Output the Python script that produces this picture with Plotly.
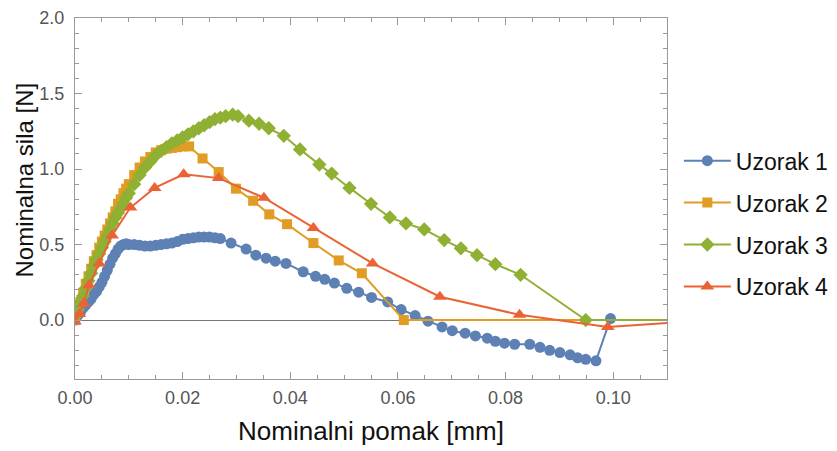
import plotly.graph_objects as go

# ---------------- data ----------------
s1_x = [0.000, 0.0005, 0.001, 0.0015, 0.002, 0.0025, 0.003, 0.0035, 0.004, 0.0045,
        0.005, 0.0055, 0.006, 0.0065, 0.007, 0.0075, 0.008, 0.0085, 0.009, 0.0095,
        0.010, 0.011, 0.012, 0.013, 0.014, 0.015, 0.016, 0.017, 0.018, 0.019,
        0.020, 0.021, 0.022, 0.023, 0.024, 0.025, 0.026, 0.027, 0.029, 0.0318,
        0.0336, 0.0355, 0.0372, 0.0392, 0.0424, 0.0447, 0.0464, 0.0482, 0.0505, 0.0527,
        0.0551, 0.0581, 0.0606, 0.0632, 0.0656, 0.0682, 0.0701, 0.0725, 0.0744, 0.0766,
        0.0781, 0.0798, 0.0817, 0.0845, 0.0864, 0.0882, 0.0901, 0.0920, 0.0934, 0.0949,
        0.0968, 0.0995]
s1_y = [0.00, 0.03, 0.05, 0.08, 0.10, 0.12, 0.14, 0.17, 0.19, 0.22,
        0.25, 0.29, 0.33, 0.37, 0.41, 0.44, 0.47, 0.49, 0.50, 0.505,
        0.50, 0.50, 0.495, 0.49, 0.49, 0.495, 0.50, 0.505, 0.51, 0.52,
        0.535, 0.54, 0.545, 0.55, 0.55, 0.55, 0.545, 0.54, 0.51, 0.47,
        0.43, 0.41, 0.39, 0.375, 0.32, 0.29, 0.27, 0.245, 0.21, 0.185,
        0.15, 0.12, 0.07, 0.03, -0.007, -0.045, -0.07, -0.087, -0.105, -0.12,
        -0.14, -0.153, -0.16, -0.16, -0.18, -0.20, -0.215, -0.23, -0.25, -0.26,
        -0.27, 0.01]

s2_x = [0.000, 0.0005, 0.001, 0.0015, 0.002, 0.0025, 0.003, 0.0035, 0.004, 0.0045,
        0.005, 0.0055, 0.006, 0.0065, 0.007, 0.0075, 0.008, 0.0085, 0.009, 0.0095,
        0.010, 0.011, 0.012, 0.013, 0.014, 0.015, 0.016, 0.017, 0.018, 0.019,
        0.020, 0.0212, 0.0237, 0.0267, 0.0299, 0.0331, 0.0361, 0.0394, 0.0443, 0.049,
        0.0533, 0.0611, 0.125]
s2_y = [0.00, 0.06, 0.12, 0.18, 0.24, 0.29, 0.34, 0.39, 0.43, 0.48,
        0.52, 0.56, 0.60, 0.64, 0.68, 0.72, 0.77, 0.80, 0.84, 0.87,
        0.90, 0.96, 1.01, 1.05, 1.08, 1.11, 1.125, 1.135, 1.14, 1.145,
        1.15, 1.15, 1.07, 0.98, 0.87, 0.79, 0.70, 0.635, 0.51, 0.395,
        0.31, 0.00, 0.00]

s3_x = [0.000, 0.0005, 0.001, 0.0015, 0.002, 0.0025, 0.003, 0.0035, 0.004, 0.0045,
        0.005, 0.0055, 0.006, 0.0065, 0.007, 0.0075, 0.008, 0.0085, 0.009, 0.0095,
        0.010, 0.011, 0.012, 0.013, 0.014, 0.015, 0.016, 0.017, 0.018, 0.019,
        0.020, 0.021, 0.022, 0.023, 0.024, 0.025, 0.026, 0.027, 0.028, 0.0293,
        0.0303, 0.0323, 0.0342, 0.036, 0.0388, 0.0418, 0.0454, 0.0477, 0.051, 0.055,
        0.0585, 0.0615, 0.0649, 0.0686, 0.0717, 0.0747, 0.0781, 0.0828, 0.0949, 0.125]
s3_y = [0.02, 0.07, 0.12, 0.16, 0.21, 0.26, 0.31, 0.36, 0.40, 0.44,
        0.48, 0.52, 0.56, 0.60, 0.64, 0.68, 0.71, 0.74, 0.77, 0.81,
        0.84, 0.90, 0.96, 1.01, 1.05, 1.09, 1.12, 1.145, 1.17, 1.19,
        1.21, 1.23, 1.25, 1.27, 1.29, 1.31, 1.33, 1.34, 1.35, 1.36,
        1.35, 1.32, 1.30, 1.27, 1.22, 1.13, 1.03, 0.97, 0.875, 0.77,
        0.68, 0.64, 0.60, 0.53, 0.475, 0.43, 0.37, 0.30, 0.00, 0.00]

s4_x = [0.000, 0.0008, 0.0016, 0.0026, 0.0045, 0.0069, 0.0103, 0.0148, 0.0202, 0.0267,
        0.0351, 0.0443, 0.0553, 0.0678, 0.0826, 0.0990, 0.115]
s4_y = [-0.01, 0.04, 0.11, 0.23, 0.375, 0.56, 0.745, 0.875, 0.965, 0.94,
        0.81, 0.61, 0.375, 0.155, 0.035, -0.045, -0.008]

names = ["Uzorak 1", "Uzorak 2", "Uzorak 3", "Uzorak 4"]
colors = ["#5E81B5", "#E19C24", "#8FB032", "#EB6235"]
symbols = ["circle", "square", "diamond", "triangle-up"]
sizes = [11, 10, 11, 12]

x_ticks = [0.00, 0.02, 0.04, 0.06, 0.08, 0.10]
y_ticks = [0.0, 0.5, 1.0, 1.5, 2.0]

x_title = "Nominalni pomak [mm]"
y_title = "Nominalna sila [N]"

series = [(s1_x, s1_y), (s2_x, s2_y), (s3_x, s3_y), (s4_x, s4_y)]

fig = go.Figure()
for i, (xs, ys) in enumerate(series):
    fig.add_trace(go.Scatter(
        x=xs, y=ys, name=names[i], mode="lines+markers",
        line=dict(color=colors[i], width=2),
        marker=dict(color=colors[i], symbol=symbols[i], size=sizes[i], line=dict(width=0)),
        legendgroup=names[i],
    ))

frame = "#9a9a9a"
tickfont = dict(family="Liberation Sans Narrow, Arial Narrow, Liberation Sans, Arial", size=18, color="#555555")
xtitlefont = dict(family="Liberation Sans, Arial", size=26, color="#111111")
ytitlefont = dict(family="Liberation Sans, Arial", size=24, color="#111111")

fig.update_layout(
    width=837, height=451,
    margin=dict(l=67, r=178, t=10, b=80, autoexpand=False),
    paper_bgcolor="white", plot_bgcolor="white",
    showlegend=True,
    legend=dict(x=1.02, y=0.43, xanchor="left", yanchor="middle",
                font=dict(family="Liberation Sans, Arial", size=23, color="#111111"),
                tracegroupgap=9, itemwidth=47, bgcolor="rgba(0,0,0,0)"),
    xaxis=dict(range=[0, 0.11], tickvals=x_ticks, ticktext=[f"{v:.2f}" for v in x_ticks],
               showgrid=False, zeroline=False, showline=True, linecolor=frame, linewidth=1,
               mirror="allticks", ticks="inside", ticklen=7, tickcolor=frame, tickwidth=1,
               minor=dict(dtick=0.005, tick0=0, ticks="inside", ticklen=4, tickcolor=frame, showgrid=False),
               tickfont=tickfont, ticklabelstandoff=2, ticklabeloverflow="allow",
               title=dict(text=x_title, font=xtitlefont, standoff=15)),
    yaxis=dict(range=[-0.39, 2.0], tickvals=y_ticks, ticktext=[f"{v:.1f}" for v in y_ticks],
               showgrid=False, zeroline=True, zerolinecolor="#777777", zerolinewidth=1,
               showline=True, linecolor=frame, linewidth=1,
               mirror="allticks", ticks="inside", ticklen=7, tickcolor=frame, tickwidth=1,
               minor=dict(dtick=0.1, tick0=0, ticks="inside", ticklen=4, tickcolor=frame, showgrid=False),
               tickfont=tickfont, ticklabelstandoff=6, ticklabeloverflow="allow"),
    annotations=[dict(text=y_title, xref="paper", yref="paper", x=-0.086, y=0.55,
                      xanchor="center", yanchor="middle", textangle=-90, showarrow=False,
                      font=ytitlefont)],
)

fig.write_html("out.html")
